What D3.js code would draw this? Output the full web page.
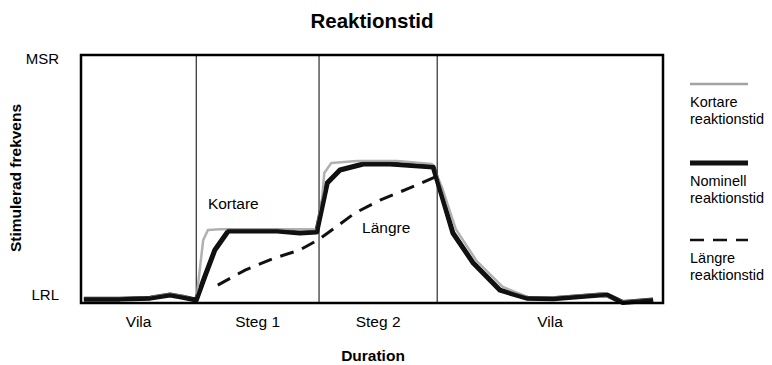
<!DOCTYPE html>
<html>
<head>
<meta charset="utf-8">
<script src="https://cdn.jsdelivr.net/npm/d3@7"></script>
<style>
  html, body { margin: 0; padding: 0; background: #fff; }
  svg { display: block; font-family: "Liberation Sans", Arial, sans-serif; }
</style>
</head>
<body>
<svg id="chart" width="772" height="365"></svg>
<script>
// ---- data ----
const title = "Reaktionstid";
const xAxisTitle = "Duration";
const yAxisTitle = "Stimulerad frekvens";
const yTickValues = [0, 100];
const yTickLabels = ["LRL", "MSR"];
const phaseNames = ["Vila", "Steg 1", "Steg 2", "Vila"];
const phaseBounds = [0, 19.8, 40.9, 61.2, 100];

// time (0-100) and rate (LRL=0 .. MSR=100)
const nominalT = [0.5, 6.7, 11.9, 15.3, 17.5, 19.8, 21.3, 23.0, 25.3, 33.7, 37.6, 40.5, 42.3, 44.5, 48.5, 53.1, 60.5, 61.7, 63.9, 67.4, 72.0, 76.6, 81.1, 89.2, 90.4, 93.1, 98.3];
const nominalV = [0.4, 0.4, 0.8, 2.1, 1.2, 0.0, 9.9, 20.7, 28.5, 28.5, 27.7, 28.1, 48.3, 53.7, 56.2, 56.2, 55.0, 45.5, 27.7, 15.3, 4.1, 0.8, 0.6, 2.1, 2.1, -1.0, 0.0];

const shorterT = [0.5, 6.7, 11.9, 15.3, 17.5, 19.8, 21.0, 21.8, 23.9, 40.5, 41.4, 41.8, 43.0, 47.4, 54.3, 60.3, 62.0, 64.4, 68.0, 72.5, 76.8, 81.4, 89.2, 93.1, 98.3];
const shorterV = [0.8, 0.8, 1.2, 2.5, 1.7, 0.0, 24.8, 28.9, 29.3, 29.3, 41.3, 52.5, 56.6, 57.4, 57.4, 56.2, 46.7, 29.3, 16.1, 5.4, 1.2, 1.2, 2.5, -0.6, 0.4];

const longerT = [23.5, 28.2, 33.3, 37.6, 40.7, 43.6, 47.1, 51.4, 56.5, 60.8];
const longerV = [6.2, 12.4, 17.4, 20.7, 24.8, 29.8, 36.0, 41.3, 46.3, 50.8];

const inPlotLabels = ["Kortare", "Längre"];
const inPlotLabelT = [21.8, 48.3];
const inPlotLabelV = [37.5, 27.5];

const legendNames = [["Kortare", "reaktionstid"], ["Nominell", "reaktionstid"], ["Längre", "reaktionstid"]];

// ---- drawing ----
const svg = d3.select("#chart");
const x = d3.scaleLinear().domain([0, 100]).range([81, 663]);
const y = d3.scaleLinear().domain([-1.2, 101.2]).range([303, 55]);

const styles = [
  { stroke: "#a3a3a3", width: 2.5, dash: null },
  { stroke: "#111", width: 5, dash: null },
  { stroke: "#111", width: 3, dash: "14,9" }
];

// phase divider lines
svg.append("g").selectAll("line")
  .data(phaseBounds.slice(1, -1))
  .join("line")
  .attr("x1", d => x(d)).attr("x2", d => x(d))
  .attr("y1", y(101.2)).attr("y2", y(-1.2))
  .attr("stroke", "#000").attr("stroke-width", 1);

const line = d3.line().x(d => x(d[0])).y(d => y(d[1])).curve(d3.curveLinear);
const series = [
  d3.zip(shorterT, shorterV),
  d3.zip(nominalT, nominalV),
  d3.zip(longerT, longerV)
];
svg.append("path").datum(series[1]).attr("d", line)
  .attr("fill", "none").attr("stroke", styles[1].stroke).attr("stroke-width", styles[1].width)
  .attr("stroke-linejoin", "round");
svg.append("path").datum(series[0]).attr("d", line)
  .attr("fill", "none").attr("stroke", styles[0].stroke).attr("stroke-width", styles[0].width)
  .attr("stroke-linejoin", "round").attr("opacity", 0.85);
svg.append("path").datum(series[1]).attr("d", line)
  .attr("fill", "none").attr("stroke", styles[1].stroke).attr("stroke-width", 3.6)
  .attr("stroke-linejoin", "round");
svg.append("path").datum(series[2]).attr("d", line)
  .attr("fill", "none").attr("stroke", styles[2].stroke).attr("stroke-width", styles[2].width)
  .attr("stroke-dasharray", styles[2].dash);

// frame
svg.append("rect")
  .attr("x", x(0)).attr("y", y(101.2))
  .attr("width", x(100) - x(0)).attr("height", y(-1.2) - y(101.2))
  .attr("fill", "none").attr("stroke", "#000").attr("stroke-width", 2.5);

// y axis labels
const yAxis = d3.axisLeft(y).tickValues(yTickValues)
  .tickFormat((d, i) => yTickLabels[i]).tickSize(0).tickPadding(22);
const gy = svg.append("g").attr("transform", `translate(${x(0)},0)`).call(yAxis);
gy.select(".domain").remove();
gy.selectAll("text").attr("font-size", 15).attr("fill", "#000")
  .attr("font-family", "Liberation Sans, Arial, sans-serif")
  .attr("dy", (d) => d === 0 ? "-0.05em" : "0.4em");

// phase labels
svg.append("g").selectAll("text")
  .data(phaseNames)
  .join("text")
  .attr("x", (d, i) => x((phaseBounds[i] + phaseBounds[i + 1]) / 2))
  .attr("y", 327)
  .attr("text-anchor", "middle").attr("font-size", 15.5).text(d => d);

// in-plot labels
svg.append("g").selectAll("text")
  .data(inPlotLabels)
  .join("text")
  .attr("x", (d, i) => x(inPlotLabelT[i]))
  .attr("y", (d, i) => y(inPlotLabelV[i]))
  .attr("font-size", 15.5).text(d => d);

// titles
svg.append("text").attr("x", 372).attr("y", 28).attr("text-anchor", "middle")
  .attr("font-size", 20.5).attr("font-weight", "bold").text(title);
svg.append("text").attr("x", 373).attr("y", 361).attr("text-anchor", "middle")
  .attr("font-size", 15.5).attr("font-weight", "bold").text(xAxisTitle);
svg.append("text").attr("transform", "translate(20.5,178) rotate(-90)")
  .attr("text-anchor", "middle").attr("font-size", 15.5).attr("font-weight", "bold").text(yAxisTitle);

// legend
const lg = svg.append("g").attr("transform", "translate(690,0)");
const legY = [84, 163, 240];
legendNames.forEach((names, i) => {
  lg.append("line").attr("x1", 0).attr("x2", 58).attr("y1", legY[i]).attr("y2", legY[i])
    .attr("stroke", styles[i].stroke).attr("stroke-width", i === 1 ? 5 : 2.5)
    .attr("stroke-dasharray", styles[i].dash);
  names.forEach((n, j) => {
    lg.append("text").attr("x", 0).attr("y", legY[i] + 23 + j * 17)
      .attr("font-size", 14.5).text(n);
  });
});
</script>
</body>
</html>
